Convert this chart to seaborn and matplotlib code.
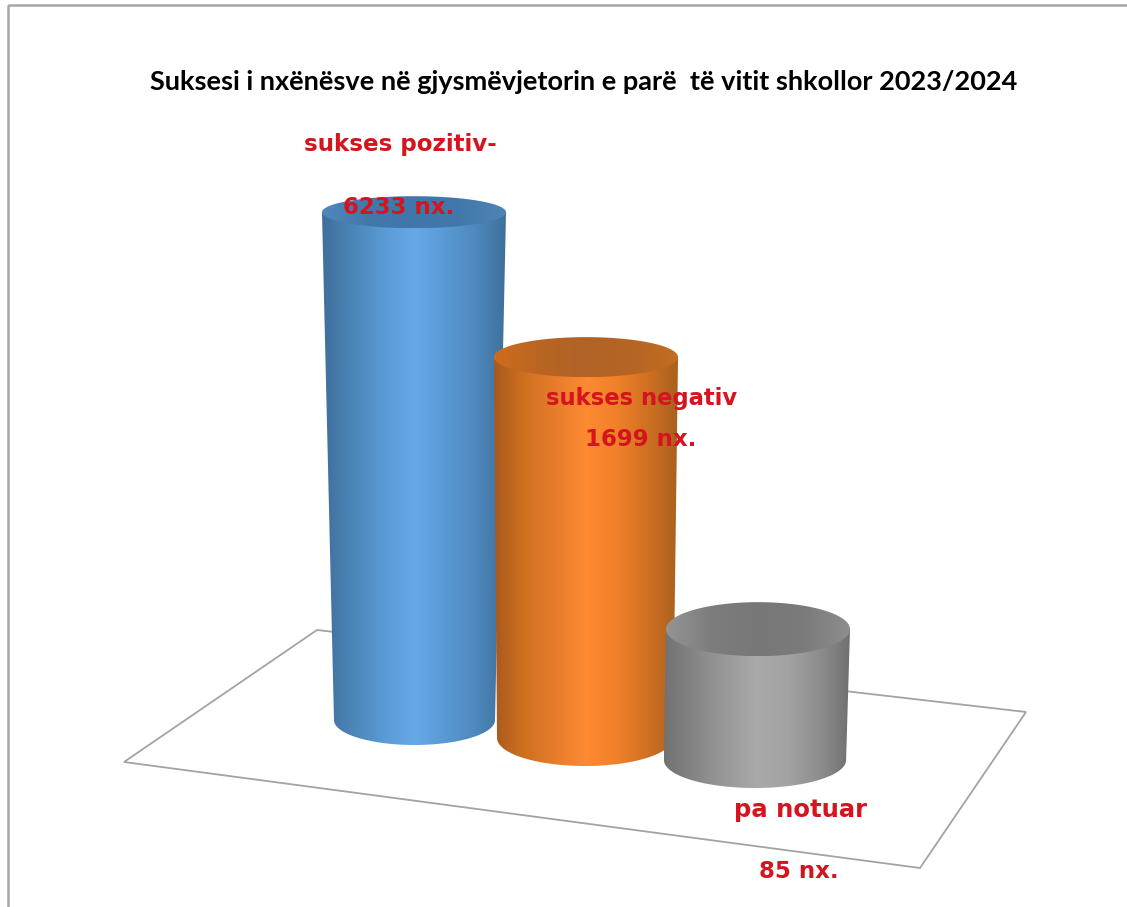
import numpy as np
import seaborn as sns
import matplotlib
matplotlib.use("Agg")
import matplotlib.pyplot as plt
from matplotlib.colors import LinearSegmentedColormap
from matplotlib.path import Path
from matplotlib.patches import PathPatch, Polygon, Rectangle
from matplotlib.transforms import Affine2D

# Datos
title = "Suksesi i nxënësve në gjysmëvjetorin e parë  të vitit shkollor 2023/2024"
categories = ["sukses pozitiv-", "sukses negativ", "pa notuar"]
values = [6233, 1699, 85]
unit = "nx."

# Colores de cada cilindro
base_colors = ["#5b9bd5", "#ed7d31", "#a5a5a5"]
body_stops = [
    ["#3f6f9c", "#4c85b9", "#5a9ad4", "#66a9e6", "#5a9ad4", "#4f88bd", "#3e6f9b"],
    ["#a95a1e", "#d0701f", "#e87d2c", "#fe8a32", "#f08029", "#cf7022", "#a9601f"],
    ["#727272", "#868686", "#9a9a9a", "#a9a9a9", "#a3a3a3", "#8d8d8d", "#707070"],
]
lid_stops = [
    ["#4f88bd", "#4279ab", "#3f77ac", "#4279ab", "#4f85b6"],
    ["#cf6c1d", "#b96522", "#b06228", "#b66524", "#c36d20"],
    ["#949494", "#7d7d7d", "#777777", "#7b7b7b", "#8e8e8e"],
]

# Geometria en pixeles de la imagen
W, H = 1127, 907
AXIS_LEFT, AXIS_RIGHT = 328, 844
AXIS_BOTTOM, AXIS_HEIGHT = 760, 630
axis_min, axis_max = 10.7, 20000
base_shift = [40, 22, 0]        # cada cilindro se apoya en otra profundidad
base_taper = [0.875, 0.956, 0.99]
base_dx = [0.5, -1, -3]
lid_half = [16, 20, 27]
foot_half = [25, 28, 28]
floor_pts = [(317, 630), (124, 762), (920, 868), (1026, 712)]
label_pos = [(400, 145), (642, 398), (800, 810)]
value_pos = [(399, 207), (641, 440), (799, 872)]
red = "#d5141f"


def forward(v):
    return np.log10(np.maximum(v, 1)) ** 1.5


def inverse(y):
    return 10 ** (np.maximum(y, 0) ** (1 / 1.5))


def fill_gradient(ax, path, stops, zorder):
    cmap = LinearSegmentedColormap.from_list("g", stops)
    xs = path.vertices[:, 0]
    ys = path.vertices[:, 1]
    img = ax.imshow(
        np.linspace(0, 1, 256).reshape(1, -1),
        cmap=cmap,
        extent=(xs.min(), xs.max(), ys.max(), ys.min()),
        aspect="auto",
        zorder=zorder,
        interpolation="bilinear",
    )
    img.set_clip_path(PathPatch(path, transform=ax.transData))


sns.set_theme(style="white")
plt.rcParams["font.family"] = ["Lato", "DejaVu Sans"]

fig = plt.figure(figsize=(W / 100, H / 100), dpi=100, facecolor="white")

# Barras reales, con su escala
ax = fig.add_axes(
    [AXIS_LEFT / W, (H - AXIS_BOTTOM) / H, (AXIS_RIGHT - AXIS_LEFT) / W, AXIS_HEIGHT / H],
    zorder=1,
)
sns.barplot(
    x=categories,
    y=values,
    hue=categories,
    palette=base_colors,
    legend=False,
    width=1.07,
    ax=ax,
)
ax.set_yscale("function", functions=(forward, inverse))
ax.set_ylim(axis_min, axis_max)
ax.set_xlim(-0.5, 2.5)
ax.axis("off")

# Escena en pixeles, encima de las barras
scene = fig.add_axes([0, 0, 1, 1], zorder=2)
scene.patch.set_alpha(0)
scene.axis("off")

scene.add_patch(Polygon(floor_pts, closed=True, fill=False, edgecolor="#a3a3a3", lw=1.3, zorder=1))
scene.add_patch(Rectangle((8, 5), W + 20, H + 20, fill=False, edgecolor="#a6a6a6", lw=1.8, zorder=1))

t = np.linspace(0, np.pi, 80)
for i, bar in enumerate(ax.patches):
    left, top = ax.transData.transform((bar.get_x(), values[i]))
    right, bottom = ax.transData.transform((bar.get_x() + bar.get_width(), axis_min))
    y_top = H - top - base_shift[i]
    y_bot = H - bottom - base_shift[i]
    cx = (left + right) / 2
    half = (right - left) / 2
    half_b = half * base_taper[i]
    cx_b = cx + base_dx[i]

    # la barra arranca en el piso del eje, se desplaza a su base
    # y se estrecha para quedar dentro del cilindro
    narrow = bar.get_width() * base_taper[i] * 0.97
    bar.set_x(bar.get_x() + (bar.get_width() - narrow) / 2)
    bar.set_width(narrow)
    bar.set_y(axis_min)
    bar.set_height(values[i] - axis_min)
    bar.set_clip_on(False)
    bar.set_transform(ax.transData + Affine2D().translate(0, base_shift[i]))

    # cuerpo: lados y media elipse inferior
    foot_x = cx_b - half_b * np.cos(t)
    foot_y = y_bot + foot_half[i] * np.sin(t)
    body = np.column_stack([
        np.r_[cx - half, foot_x, cx + half],
        np.r_[y_top, foot_y, y_top],
    ])
    fill_gradient(scene, Path(np.vstack([body, body[0]]), closed=True), body_stops[i], 2 + i * 2)

    # tapa
    a = np.linspace(0, 2 * np.pi, 160)
    lid = np.column_stack([cx + half * np.cos(a), y_top + lid_half[i] * np.sin(a)])
    fill_gradient(scene, Path(lid, closed=True), lid_stops[i], 3 + i * 2)

scene.set_xlim(0, W)
scene.set_ylim(H, 0)

scene.text(584, 82, title, ha="center", va="center", fontsize=19.5, fontweight="bold",
           color="black", zorder=20)
for i, cat in enumerate(categories):
    scene.text(*label_pos[i], cat, ha="center", va="center", fontsize=[16.6, 16.3, 17.5][i],
               fontweight="bold", family="DejaVu Sans", color=red, zorder=20)
    scene.text(*value_pos[i], f"{values[i]} {unit}", ha="center", va="center", fontsize=16.5,
               fontweight="bold", family="DejaVu Sans", color=red, zorder=20)

fig.savefig("out.png", dpi=100, facecolor="white")
